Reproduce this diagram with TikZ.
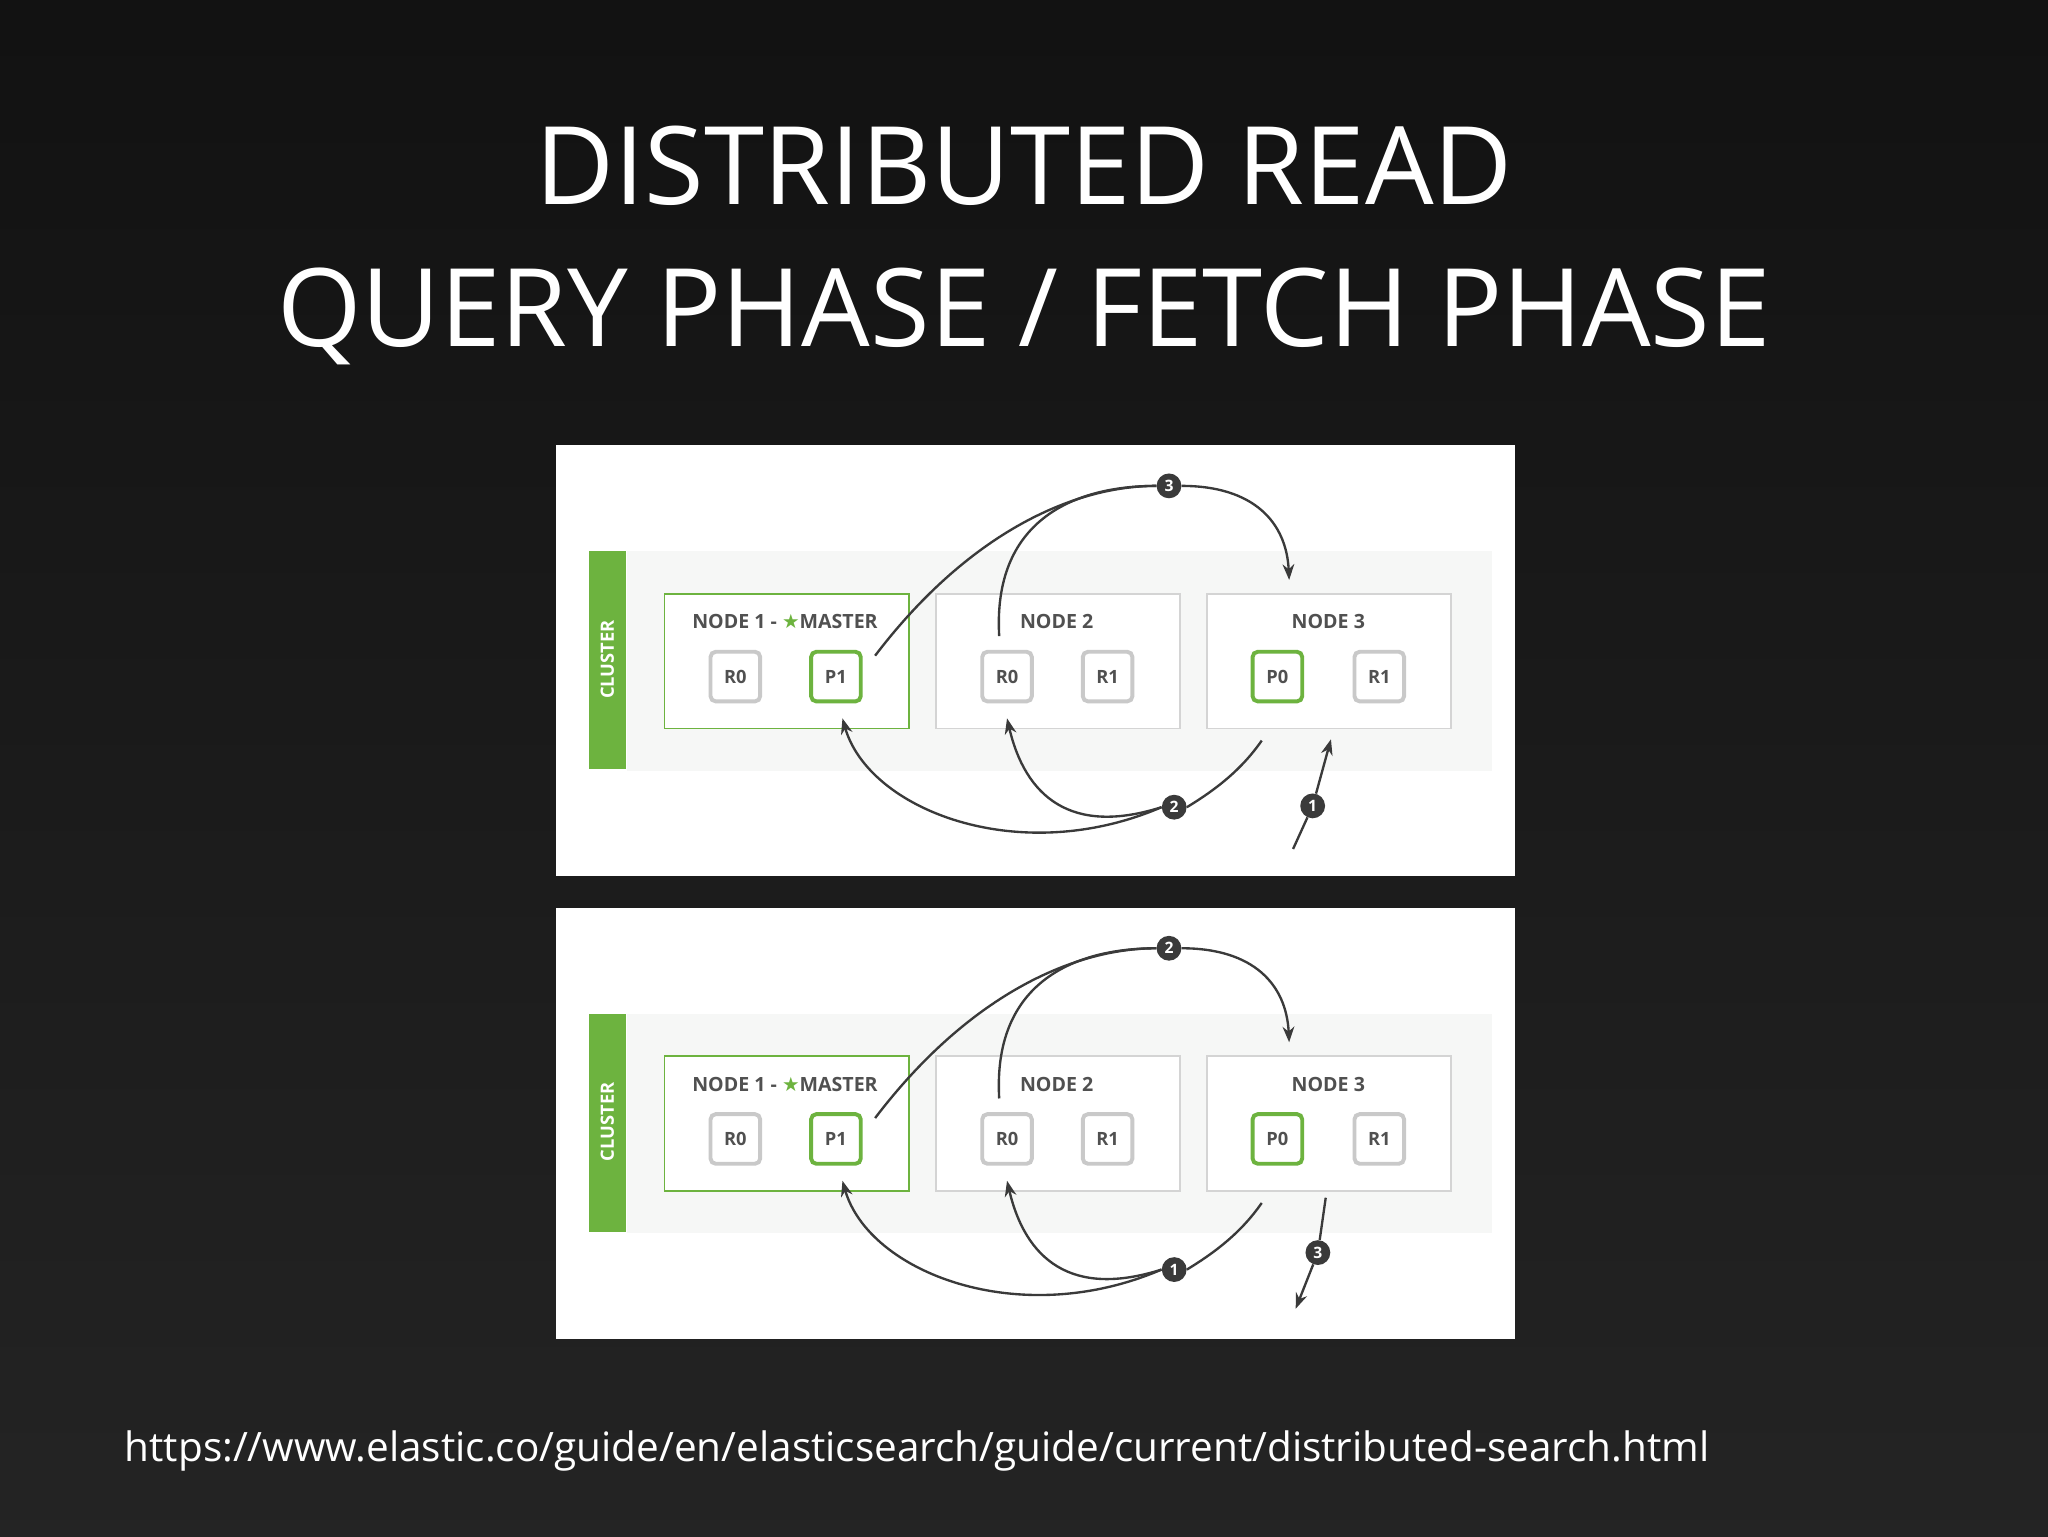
\documentclass[tikz,border=0pt]{standalone}
\usepackage{fontspec}
\setmainfont{Open Sans}
\newfontfamily\symf{DejaVu Sans}
\usetikzlibrary{arrows.meta}
\definecolor{egreen}{HTML}{6DB33F}
\definecolor{sgray}{HTML}{C9C9C9}
\definecolor{bgray}{HTML}{D4D4D4}
\definecolor{dark}{HTML}{3A3A3A}
\definecolor{txt}{HTML}{505050}
\definecolor{band}{HTML}{F6F7F6}
\tikzset{
  x=1pt,y=-1pt,
  nodebox/.style={draw=bgray,line width=1.5pt,fill=white,minimum width=187pt,minimum height=103pt,anchor=north west},
  greenbox/.style={nodebox,draw=egreen},
  shard/.style={draw=sgray,line width=3pt,rounded corners=4pt,fill=white,minimum size=38pt,font=\bfseries\fontsize{14}{14}\selectfont,text=txt},
  pshard/.style={shard,draw=egreen},
  ttl/.style={font=\bfseries\fontsize{15}{15}\selectfont,text=txt},
  num/.style={circle,fill=dark,text=white,inner sep=0pt,minimum size=19pt,font=\bfseries\fontsize{12}{12}\selectfont},
  conn/.style={draw=dark,line width=1.8pt},
  arr/.style={conn,-{Stealth[length=12pt,width=9pt]}},
}
\newcommand{\panel}[4]{%
\begin{scope}[yshift=#1]
\fill[white] (426,341) rectangle (1160,671);
\fill[band] (480,422) rectangle (1142,590);
\fill[egreen] (451,422) rectangle (479,589);
\node[rotate=90,text=white,font=\bfseries\fontsize{14}{14}\selectfont] (cl#4) at (465,505) {CLUSTER};
\node[greenbox] (n1#4) at (508,454) {};
\node[nodebox] (n2#4) at (716,454) {};
\node[nodebox] (n3#4) at (923,454) {};
\node[ttl] (t1#4) at (601,476) {NODE 1 - {\color{egreen}\symf ★}MASTER};
\node[ttl] (t2#4) at (809,476) {NODE 2};
\node[ttl] (t3#4) at (1017,476) {NODE 3};
\node[shard] (a#4) at (563,518) {R0};
\node[pshard] (b#4) at (640,518) {P1};
\node[shard] (c#4) at (771,518) {R0};
\node[shard] (d#4) at (848,518) {R1};
\node[pshard] (e#4) at (978,518) {P0};
\node[shard] (f#4) at (1056,518) {R1};
\coordinate (p1o#4) at (670,502);
\coordinate (n2o#4) at (765,487);
\coordinate (n3i#4) at (987,444);
\coordinate (n3o#4) at (966,567);
\coordinate (p1i#4) at (645,550);
\coordinate (r0i#4) at (771,550);
\node[num] (top#4) at (895,372) {#2};
\node[num] (mid#4) at (899,618) {#3};
\draw[conn] (p1o#4) .. controls (740,410) and (820,372) .. (top#4.west);
\draw[conn] (n2o#4) .. controls (760,400) and (820,372) .. (top#4.west);
\draw[arr] (top#4.east) .. controls (960,372) and (985,400) .. (n3i#4);
\draw[conn] (n3o#4) .. controls (950,590) and (930,605) .. (mid#4.east);
\draw[arr] (mid#4.west) .. controls (780,665) and (665,620) .. (p1i#4);
\draw[arr] (mid#4.west) .. controls (820,640) and (785,610) .. (r0i#4);
\end{scope}}
\begin{document}
\begin{tikzpicture}
\shade[top color=black!93,bottom color=black!86] (0,0) rectangle (1568,1176);
\useasboundingbox (0,0) rectangle (1568,1176);
\node[text=white,font=\fontsize{83}{83}\selectfont] (title1) at (784,127) {DISTRIBUTED READ};
\node[text=white,font=\fontsize{83}{83}\selectfont] (title2) at (784,242) {QUERY PHASE / FETCH PHASE};
\panel{0}{3}{2}{A}
\panel{-354}{2}{1}{B}
\node[num] (oneA) at (1005,617) {1};
\coordinate (inA) at (990,650);
\coordinate (n3bA) at (1019,566);
\draw[conn] (inA) -- (oneA);
\draw[arr] (oneA) -- (n3bA);
\node[num] (threeB) at (1009,959) {3};
\coordinate (outB) at (992,1002);
\coordinate (n3bB) at (1015,917);
\draw[conn] (n3bB) -- (threeB);
\draw[arr] (threeB) -- (outB);
\node[text=white,font=\fontsize{31}{31}\selectfont,anchor=west] (url) at (92,1111) {https://www.elastic.co/guide/en/elasticsearch/guide/current/distributed-search.html};
\end{tikzpicture}
\end{document}
